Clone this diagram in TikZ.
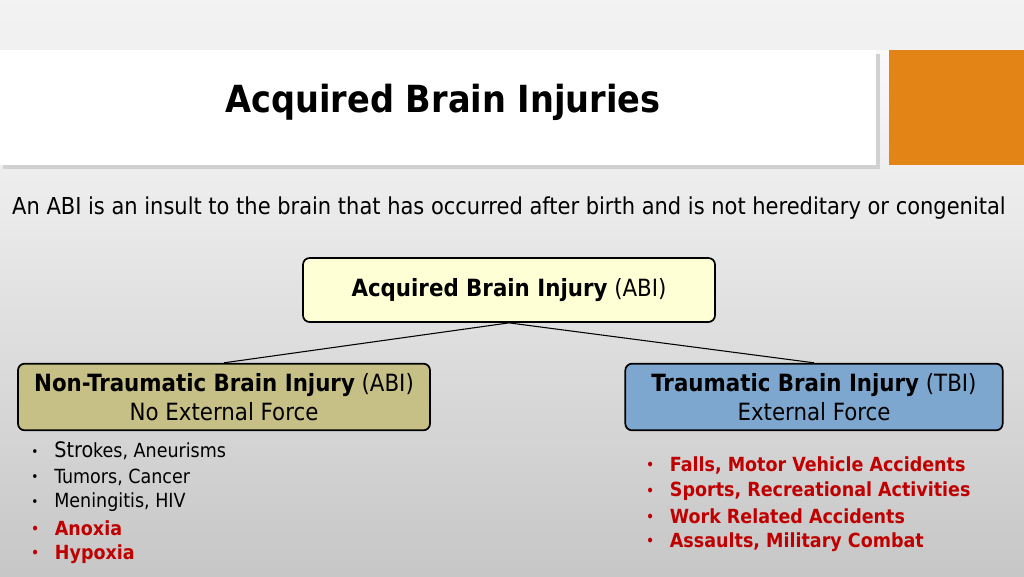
\documentclass[tikz,border=0pt]{standalone}
\usepackage{fontspec}
\setmainfont{DejaVu Sans Condensed}
\usetikzlibrary{positioning,shadows}
\definecolor{abired}{HTML}{C00000}
\definecolor{abiorange}{HTML}{E38417}
\definecolor{abikhaki}{HTML}{C6BF86}
\definecolor{abiblue}{HTML}{7EA7CF}
\definecolor{abiyellow}{HTML}{FFFFD6}
\tikzset{
  catbox/.style={draw=black,line width=1.3pt,rounded corners=5pt,align=center,font=\fontsize{17.8}{22}\selectfont},
  bul/.style={anchor=west,inner sep=0pt,font=\fontsize{14.6}{16}\selectfont},
  redbul/.style={bul,text=abired,font=\fontsize{14.6}{16}\selectfont\bfseries}
}
\newcommand{\bdot}{{\fontsize{10}{10}\selectfont\raisebox{1pt}{•}}\hspace{12pt}}
\begin{document}
\begin{tikzpicture}[x=0.75pt,y=-0.75pt]
	% background
	\shade[left color=white,right color=black!28,shading angle=0] (0,0) rectangle (1024,576);
	\shade[top color=white,bottom color=black!18,opacity=0.6] (0,0) rectangle (1024,576);
	\fill[black!8,opacity=0.6] (0,0) rectangle (1024,50);
	\useasboundingbox (0,0) rectangle (1024,576);
	% title banner
	\fill[black!18] (3,54) rectangle (880,169);
	\fill[white] (0,50) rectangle (876,165);
	\fill[abiorange] (889,50) rectangle (1024,165);
	\node (title) at (443,102) {\fontsize{28}{32}\selectfont\bfseries Acquired Brain Injuries};
	\node (intro) at (509,208) {\fontsize{17.5}{20}\selectfont An ABI is an insult to the brain that has occurred after birth and is not hereditary or congenital};
	% boxes
	\node[catbox,fill=abiyellow,minimum width=309pt,minimum height=48pt] (abi) at (509,290) {\textbf{Acquired Brain Injury} (ABI)};
	\node[catbox,fill=abikhaki,minimum width=309pt,minimum height=50pt] (ntbi) at (224,397) {\textbf{Non-Traumatic Brain Injury} (ABI)\\No External Force};
	\node[catbox,fill=abiblue,minimum width=283pt,minimum height=50pt] (tbi) at (814,397) {\textbf{Traumatic Brain Injury} (TBI)\\External Force};
	\draw[thick] (abi.south) -- (ntbi.north);
	\draw[thick] (abi.south) -- (tbi.north);
	% left list
	\node[bul] (n1) at (31,451) {\bdot{\fontsize{16}{16}\selectfont Stro}kes, Aneurisms};
	\node[bul] (n2) at (31,477) {\bdot Tumors, Cancer};
	\node[bul] (n3) at (31,502) {\bdot Meningitis, HIV};
	\node[redbul] (n4) at (31,528) {\bdot Anoxia};
	\node[redbul] (n5) at (31,554) {\bdot Hypoxia};
	% right list
	\node[redbul] (t1) at (646,465) {\bdot Falls, Motor Vehicle Accidents};
	\node[redbul] (t2) at (646,491) {\bdot Sports, Recreational Activities};
	\node[redbul] (t3) at (646,516) {\bdot Work Related Accidents};
	\node[redbul] (t4) at (646,542) {\bdot Assaults, Military Combat};
\end{tikzpicture}
\end{document}
